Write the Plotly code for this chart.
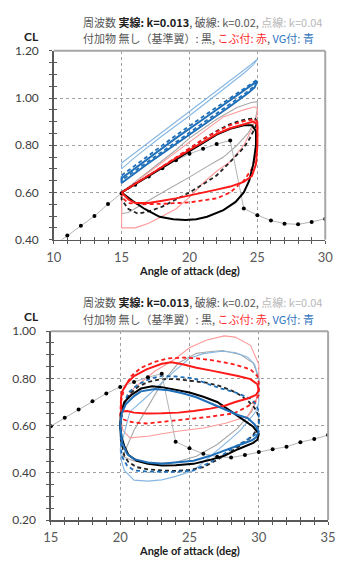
import plotly.graph_objects as go

W, H = 338, 565

# ---------------- static curve (shared) ----------------
stat_aoa = [10, 11, 12, 13, 14, 15, 16, 17, 18, 19, 20, 21, 22, 23, 24, 25, 26, 27, 28, 29, 30, 31, 32, 33, 34, 35]
stat_cl = [0.375, 0.418, 0.459, 0.500, 0.551, 0.597, 0.633, 0.668, 0.703, 0.736, 0.764, 0.785, 0.805, 0.820,
           0.532, 0.504, 0.481, 0.468, 0.465, 0.475, 0.488, 0.500, 0.510, 0.530, 0.543, 0.560]

# ---------------- top chart: 15-25 deg ----------------
t_blk13_aoa = [15, 16, 17, 18, 19, 20, 21, 22, 23, 24, 24.6, 24.9, 24.9, 24.7, 24.4, 24.0, 23.4, 22.5, 21.3, 20.5, 19.7, 18.8, 17.8, 16.7, 15.8, 15]
t_blk13_cl = [0.600, 0.635, 0.670, 0.705, 0.740, 0.775, 0.810, 0.845, 0.870, 0.885, 0.885, 0.860, 0.800, 0.720, 0.650, 0.600, 0.560, 0.525, 0.497, 0.487, 0.483, 0.487, 0.497, 0.530, 0.565, 0.600]

t_red13_aoa = [15, 16, 17, 18, 19, 20, 21, 22, 23, 24, 24.7, 25, 25, 24.9, 24.6, 24, 23, 22, 21, 20, 19, 18, 17, 16, 15.5, 15]
t_red13_cl = [0.600, 0.637, 0.673, 0.710, 0.745, 0.780, 0.815, 0.848, 0.872, 0.890, 0.900, 0.890, 0.800, 0.720, 0.670, 0.645, 0.625, 0.612, 0.600, 0.585, 0.575, 0.565, 0.555, 0.555, 0.570, 0.600]

t_blk20_aoa = [15, 17, 19, 20, 21, 22, 23, 24, 24.8, 25, 24.8, 24.4, 24, 23, 22, 21, 20, 19, 18, 17, 16.2, 15.5, 15, 15]
t_blk20_cl = [0.600, 0.670, 0.745, 0.785, 0.825, 0.860, 0.890, 0.908, 0.915, 0.900, 0.870, 0.825, 0.790, 0.730, 0.672, 0.635, 0.600, 0.570, 0.540, 0.520, 0.510, 0.530, 0.570, 0.600]

t_red20_aoa = [15, 17, 19, 20, 21, 22, 23, 24, 24.8, 25, 25, 24.9, 24.6, 24, 23, 22, 20, 18, 16.5, 15.5, 15, 15]
t_red20_cl = [0.600, 0.672, 0.748, 0.788, 0.826, 0.858, 0.885, 0.902, 0.910, 0.900, 0.830, 0.760, 0.700, 0.650, 0.600, 0.575, 0.558, 0.552, 0.550, 0.555, 0.580, 0.600]

t_gry40_aoa = [15, 17, 19, 20, 22, 23.5, 24.5, 25, 25, 24.8, 24.3, 23.5, 22.5, 21, 20, 18, 16.5, 15.5, 15, 15]
t_gry40_cl = [0.600, 0.690, 0.780, 0.830, 0.910, 0.960, 0.980, 0.985, 0.950, 0.900, 0.850, 0.800, 0.750, 0.700, 0.665, 0.600, 0.550, 0.515, 0.510, 0.600]

t_pnk40_aoa = [15, 17, 19, 20, 22.5, 24, 24.8, 25, 25, 24.6, 24, 23, 22, 21, 20, 19, 18, 17, 16, 15, 15]
t_pnk40_cl = [0.600, 0.685, 0.770, 0.810, 0.920, 0.950, 0.963, 0.955, 0.930, 0.870, 0.800, 0.730, 0.690, 0.640, 0.580, 0.530, 0.500, 0.470, 0.450, 0.450, 0.600]

t_blu13_aoa = [15, 17, 19, 21, 23, 24.5, 25, 24.8, 24.3, 23, 21, 19, 17, 15, 15]
t_blu13_cl = [0.660, 0.745, 0.830, 0.910, 0.990, 1.050, 1.072, 1.045, 1.020, 0.965, 0.885, 0.805, 0.725, 0.640, 0.660]

t_blu20_aoa = [15, 17, 19, 21, 23, 24.5, 25, 24.8, 24.3, 23, 21, 19, 17, 15, 15]
t_blu20_cl = [0.672, 0.757, 0.842, 0.922, 1.000, 1.058, 1.078, 1.052, 1.028, 0.975, 0.895, 0.815, 0.735, 0.652, 0.672]

t_lbl40_aoa = [15, 17, 19, 21, 23, 24.5, 25, 24.7, 24, 22, 20, 18, 16, 15, 15]
t_lbl40_cl = [0.725, 0.812, 0.900, 0.988, 1.075, 1.140, 1.165, 1.140, 1.105, 1.015, 0.925, 0.840, 0.750, 0.700, 0.725]

# ---------------- bottom chart: 20-30 deg ----------------
b_blk13_aoa = [20, 20.05, 20.3, 20.8, 21.5, 22.3, 23, 24, 25, 26, 27, 28, 29, 29.6, 30, 29.9, 29.6, 28.5, 27.5, 26.5, 25.3, 24, 23, 22, 21.2, 20.6, 20.3, 20.1, 20]
b_blk13_cl = [0.600, 0.650, 0.700, 0.730, 0.757, 0.767, 0.763, 0.752, 0.740, 0.722, 0.700, 0.660, 0.620, 0.595, 0.565, 0.540, 0.527, 0.500, 0.472, 0.455, 0.438, 0.432, 0.431, 0.438, 0.451, 0.475, 0.513, 0.550, 0.600]

b_blu13_aoa = [20, 20.1, 20.4, 21, 21.5, 22.5, 23.5, 24.5, 25.5, 26.5, 27.5, 28.5, 29.2, 29.7, 30, 29.8, 29.5, 28.5, 27.5, 26.5, 25.3, 24, 23, 22, 21, 20.5, 20.15, 20]
b_blu13_cl = [0.600, 0.650, 0.690, 0.725, 0.745, 0.755, 0.750, 0.737, 0.720, 0.694, 0.668, 0.645, 0.632, 0.605, 0.575, 0.550, 0.538, 0.515, 0.493, 0.472, 0.451, 0.442, 0.438, 0.444, 0.458, 0.480, 0.527, 0.600]

b_red13_aoa = [20.1, 20.05, 20.1, 20.5, 21, 21.9, 23, 23.7, 24.5, 25.5, 26.5, 27.6, 28.5, 29.4, 29.9, 30, 29.8, 29.2, 28.3, 27.6, 26.5, 25.3, 24.2, 23, 21.9, 21, 20.5, 20.1]
b_red13_cl = [0.660, 0.700, 0.740, 0.780, 0.810, 0.838, 0.862, 0.868, 0.860, 0.845, 0.834, 0.822, 0.810, 0.797, 0.775, 0.750, 0.730, 0.715, 0.700, 0.685, 0.672, 0.662, 0.655, 0.652, 0.651, 0.655, 0.662, 0.660]

b_blk20_aoa = [20, 20.2, 20.6, 21.3, 22, 23, 24, 25.3, 26.2, 27.1, 28, 28.7, 29.3, 29.7, 30, 30, 29.6, 29, 28, 27, 26, 25, 24, 23, 22, 21.2, 20.6, 20.3, 20.05, 20]
b_blk20_cl = [0.600, 0.680, 0.730, 0.765, 0.785, 0.797, 0.797, 0.790, 0.782, 0.769, 0.750, 0.728, 0.700, 0.675, 0.640, 0.600, 0.560, 0.530, 0.490, 0.455, 0.424, 0.412, 0.408, 0.410, 0.415, 0.424, 0.445, 0.472, 0.540, 0.600]

b_blu20_aoa = [20, 20.2, 20.6, 21.3, 22.2, 23, 24, 25.3, 26.4, 27.3, 28.3, 29.4, 29.8, 30, 30, 29.7, 29, 28, 27, 26, 25.3, 24, 23, 22, 21, 20.5, 20.1, 20]
b_blu20_cl = [0.600, 0.680, 0.740, 0.775, 0.800, 0.810, 0.808, 0.800, 0.775, 0.757, 0.741, 0.714, 0.690, 0.660, 0.600, 0.560, 0.535, 0.500, 0.460, 0.430, 0.410, 0.404, 0.403, 0.405, 0.410, 0.430, 0.472, 0.600]

b_red20_aoa = [20, 20.05, 20.3, 20.8, 21.5, 22.5, 23.5, 24.6, 25.5, 26.4, 27.5, 28.3, 29.4, 29.9, 30, 30, 29.7, 29, 28.2, 27.3, 26.4, 25.3, 24.2, 23, 21.9, 21, 20.5, 20.1, 20]
b_red20_cl = [0.640, 0.700, 0.760, 0.810, 0.845, 0.870, 0.885, 0.888, 0.885, 0.879, 0.868, 0.858, 0.838, 0.810, 0.780, 0.730, 0.700, 0.675, 0.652, 0.643, 0.637, 0.630, 0.623, 0.615, 0.609, 0.613, 0.620, 0.630, 0.640]

b_gry40_aoa = [20.1, 20.3, 21, 21.9, 23, 24.2, 25.5, 26.4, 27.4, 28.7, 29.6, 30, 30, 29.5, 28.5, 27, 25.5, 24, 22.5, 21, 20.3, 20.1]
b_gry40_cl = [0.470, 0.486, 0.580, 0.670, 0.780, 0.865, 0.906, 0.913, 0.918, 0.900, 0.865, 0.800, 0.740, 0.660, 0.590, 0.520, 0.470, 0.445, 0.440, 0.450, 0.465, 0.470]

b_pnk40_aoa = [20.2, 20.7, 22, 24, 26, 27.6, 29.2, 29.8, 30, 30, 29.4, 28.3, 27.5, 26.2, 25, 23.9, 22.5, 21, 20.3, 20.05, 20.2]
b_pnk40_cl = [0.580, 0.548, 0.555, 0.575, 0.590, 0.610, 0.640, 0.700, 0.780, 0.860, 0.940, 0.975, 0.980, 0.962, 0.930, 0.880, 0.830, 0.760, 0.690, 0.630, 0.580]

b_lbl40_aoa = [20, 20.3, 20.7, 21.5, 23, 24, 25, 26, 27.3, 28.3, 29.2, 29.7, 30, 30, 29.86, 28.7, 28, 27.1, 26, 25.3, 24, 23, 22, 21, 20.3, 20.1, 20]
b_lbl40_cl = [0.500, 0.570, 0.659, 0.700, 0.783, 0.835, 0.885, 0.905, 0.915, 0.910, 0.890, 0.860, 0.800, 0.700, 0.665, 0.582, 0.545, 0.500, 0.445, 0.410, 0.385, 0.370, 0.365, 0.369, 0.410, 0.450, 0.500]

# ---------------- styles ----------------
C_BLK, C_RED, C_BLU = "#000000", "#ff1a1a", "#1f6fb8"
C_GRY, C_PNK, C_LBL = "#a8a8a8", "#ff9a9a", "#86b7e3"
C_AX, C_BORDER, C_GRID = "#595959", "#a6a6a6", "#a0a0a0"
LAT = "Lato, 'Noto Sans', sans-serif"
JP = "'Noto Sans CJK JP', 'Noto Sans', sans-serif"

fig = go.Figure()

def loop(x, y, color, width, dash, xa, ya):
    fig.add_trace(go.Scatter(x=x, y=y, mode="lines", xaxis=xa, yaxis=ya,
                             line=dict(color=color, width=width, dash=dash),
                             hoverinfo="skip", showlegend=False))

def static(xa, ya):
    fig.add_trace(go.Scatter(x=stat_aoa, y=stat_cl, mode="lines+markers", xaxis=xa, yaxis=ya,
                             line=dict(color="#b4b4b4", width=1),
                             marker=dict(color="#000000", size=4),
                             hoverinfo="skip", showlegend=False))

for xa, ya, D in [("x", "y", dict(
        lbl=(t_lbl40_aoa, t_lbl40_cl), pnk=(t_pnk40_aoa, t_pnk40_cl), gry=(t_gry40_aoa, t_gry40_cl),
        blu20=(t_blu20_aoa, t_blu20_cl), red20=(t_red20_aoa, t_red20_cl), blk20=(t_blk20_aoa, t_blk20_cl),
        blu13=(t_blu13_aoa, t_blu13_cl), red13=(t_red13_aoa, t_red13_cl), blk13=(t_blk13_aoa, t_blk13_cl))),
        ("x2", "y2", dict(
        lbl=(b_lbl40_aoa, b_lbl40_cl), pnk=(b_pnk40_aoa, b_pnk40_cl), gry=(b_gry40_aoa, b_gry40_cl),
        blu20=(b_blu20_aoa, b_blu20_cl), red20=(b_red20_aoa, b_red20_cl), blk20=(b_blk20_aoa, b_blk20_cl),
        blu13=(b_blu13_aoa, b_blu13_cl), red13=(b_red13_aoa, b_red13_cl), blk13=(b_blk13_aoa, b_blk13_cl)))]:
    loop(*D["gry"], C_GRY, 1.1, "solid", xa, ya)
    loop(*D["pnk"], C_PNK, 1.1, "solid", xa, ya)
    loop(*D["lbl"], C_LBL, 1.1, "solid", xa, ya)
    loop(*D["blk20"], "#222222", 1.8, "4px,3px", xa, ya)
    loop(*D["red20"], C_RED, 1.8, "4px,3px", xa, ya)
    loop(*D["blu20"], C_BLU, 1.8, "4px,3px", xa, ya)
    static(xa, ya)
    loop(*D["blk13"], C_BLK, 2.0, "solid", xa, ya)
    loop(*D["red13"], C_RED, 2.0, "solid", xa, ya)
    loop(*D["blu13"], C_BLU, 2.0, "solid", xa, ya)

for xa, ya in [("x3", "y3"), ("x4", "y4")]:
    fig.add_trace(go.Scatter(x=[None], y=[None], xaxis=xa, yaxis=ya, mode="lines",
                             hoverinfo="skip", showlegend=False))

def px_x(p):
    return p / W

def px_y(p):
    return 1 - p / H

top_xd = [px_x(48), px_x(333)]
top_yd = [px_y(238), px_y(44)]
bot_xd = [px_x(45), px_x(336)]
bot_yd = [px_y(526), px_y(332)]

def xaxis(dom, rng, anchor, overlay=None):
    d = dict(domain=dom, range=rng, anchor=anchor, tickmode="linear", tick0=rng[0], dtick=5,
             zeroline=False, fixedrange=True)
    if overlay is None:
        d.update(showgrid=True, gridcolor=C_GRID, griddash="dot", gridwidth=1,
                 showline=True, linecolor=C_AX, linewidth=1.5,
                 ticks="outside", ticklen=3, tickcolor=C_AX, tickwidth=1,
                 minor=dict(dtick=1, ticks="outside", ticklen=3, tickcolor=C_AX, tickwidth=1, showgrid=False),
                 tickfont=dict(family=LAT, size=13, color=C_AX), ticklabelstandoff=2,
                 ticklabeloverflow="allow")
    else:
        d.update(overlaying=overlay, showgrid=False, showline=False, showticklabels=False,
                 ticks="inside", ticklen=3, tickcolor=C_AX, tickwidth=1,
                 minor=dict(dtick=1, ticks="inside", ticklen=3, tickcolor=C_AX, tickwidth=1, showgrid=False))
    return d

def yaxis(dom, rng, anchor, overlay=None):
    d = dict(domain=dom, range=rng, anchor=anchor, tickmode="linear", tick0=rng[0], dtick=0.2,
             zeroline=False, fixedrange=True, tickformat=".2f")
    if overlay is None:
        d.update(showgrid=True, gridcolor=C_GRID, griddash="dot", gridwidth=1,
                 showline=True, linecolor=C_AX, linewidth=1.5,
                 ticks="outside", ticklen=3, tickcolor=C_AX, tickwidth=1,
                 minor=dict(dtick=0.05, ticks="outside", ticklen=3, tickcolor=C_AX, tickwidth=1, showgrid=False),
                 tickfont=dict(family=LAT, size=12, color="#404040"), ticklabelstandoff=8,
                 ticklabeloverflow="allow")
    else:
        d.update(overlaying=overlay, showgrid=False, showline=False, showticklabels=False,
                 ticks="inside", ticklen=3, tickcolor=C_AX, tickwidth=1,
                 minor=dict(dtick=0.05, ticks="inside", ticklen=3, tickcolor=C_AX, tickwidth=1, showgrid=False))
    return d

fig.update_layout(
    width=W, height=H, margin=dict(l=0, r=0, t=0, b=0),
    paper_bgcolor="white", plot_bgcolor="white", showlegend=False,
    xaxis=xaxis(top_xd, [10, 30], "y"),
    yaxis=yaxis(top_yd, [0.4, 1.2], "x"),
    xaxis2=xaxis(bot_xd, [15, 35], "y2"),
    yaxis2=yaxis(bot_yd, [0.2, 1.0], "x2"),
    xaxis3=xaxis(top_xd, [10, 30], "y3", overlay="x"),
    yaxis3=yaxis(top_yd, [0.4, 1.2], "x3", overlay="y"),
    xaxis4=xaxis(bot_xd, [15, 35], "y4", overlay="x2"),
    yaxis4=yaxis(bot_yd, [0.2, 1.0], "x4", overlay="y2"),
)

shapes = []
for xr, yr in [("x", "y"), ("x2", "y2")]:
    shapes.append(dict(type="line", xref=xr + " domain", yref=yr + " domain", x0=0, x1=1, y0=1, y1=1,
                       line=dict(color=C_BORDER, width=2)))
    shapes.append(dict(type="line", xref=xr + " domain", yref=yr + " domain", x0=1, x1=1, y0=0, y1=1,
                       line=dict(color=C_BORDER, width=2)))
fig.update_layout(shapes=shapes)

line1 = ('周波数 <b><span style="color:#202020">実線: k=0.013</span></b>, 破線: k=0.02, '
         '<span style="color:#b8b8b8">点線: k=0.04</span>')
line2 = ('付加物 無し（基準翼）: 黒, <span style="color:#ff2a2a">こぶ付: 赤</span>, '
         '<span style="color:#2e75c0">VG付: 青</span>')

ann = []
for y1, y2, ycl, yxt, xc in [(14, 31, 29, 270, (48 + 333) / 2), (302, 319, 317, 557, (45 + 336) / 2)]:
    ann.append(dict(xref="paper", yref="paper", x=px_x(77), y=px_y(y1), xanchor="left", yanchor="middle",
                    text=line1, showarrow=False, font=dict(family=JP, size=11, color="#555555")))
    ann.append(dict(xref="paper", yref="paper", x=px_x(77), y=px_y(y2), xanchor="left", yanchor="middle",
                    text=line2, showarrow=False, font=dict(family=JP, size=11, color="#555555")))
    ann.append(dict(xref="paper", yref="paper", x=px_x(25), y=px_y(ycl), xanchor="center", yanchor="middle",
                    text="<b>CL</b>", showarrow=False, font=dict(family=LAT, size=12, color="#202020")))
    ann.append(dict(xref="paper", yref="paper", x=px_x(xc), y=px_y(yxt), xanchor="center", yanchor="middle",
                    text="<b>Angle of attack (deg)</b>", showarrow=False,
                    font=dict(family=LAT, size=11, color="#202020")))
fig.update_layout(annotations=ann)

fig.write_html("out.html", config={"displayModeBar": False, "staticPlot": True},
               post_script="document.body.style.margin='0';document.body.style.overflow='hidden';")
